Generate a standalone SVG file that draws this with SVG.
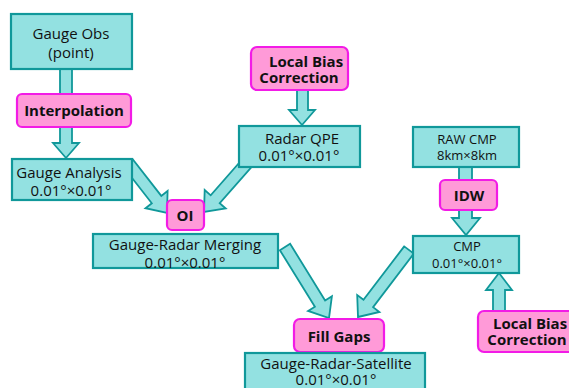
<svg xmlns="http://www.w3.org/2000/svg" width="569" height="388" viewBox="0 0 569 388">
<style>
.box{fill:#93E1E1;stroke:#10989A;stroke-width:2.2}
.op{fill:#FF9AD8;stroke:#F21BE6;stroke-width:2.2}
.arr{fill:#93E1E1;stroke:#10989A;stroke-width:1.8;stroke-linejoin:miter}
.t{font-family:"Open Sans","Noto Sans",sans-serif;font-size:15px;fill:#111;text-anchor:middle;dominant-baseline:central}
.s{font-size:13px}
.b{font-family:"Open Sans","Noto Sans",sans-serif;font-size:15px;font-weight:bold;fill:#111;text-anchor:middle;dominant-baseline:central}
</style>
<rect width="569" height="388" fill="#fff"/>
<g id="connectors">
<polygon class="arr" points="60,69 72,69 72,143 79,143 66,158 53,143 60,143"/>
<polygon class="arr" points="297,90 308,90 308,110 315,110 302,125 289,110 297,110"/>
<polygon class="arr" points="459,167 472,167 472,218 480,218 466,235 452,218 459,218"/>
<polygon class="arr" points="493,311 505,311 505,290 512,290 499,273 486,290 493,290"/>
<polygon class="arr" points="123.3,166.7 151.8,203.3 145.5,208.2 167,213 167.6,191 161.3,195.9 132.7,159.3"/>
<polygon class="arr" points="242.5,159 210.7,195.3 204.7,190 204,212 225.7,208.5 219.7,203.2 251.5,167"/>
<polygon class="arr" points="279.9,250.2 314.9,306.7 308.1,310.9 329,318 331.9,296.2 325.1,300.4 290.1,243.8"/>
<polygon class="arr" points="404.2,246.4 363.5,299.8 357.2,295 358,317 379.4,312 373.1,307.1 413.8,253.6"/>
</g>
<g id="gauge-obs">
<rect class="box" x="11" y="14" width="121" height="55"/>
<text class="t" x="71" y="33">Gauge Obs</text>
<text class="t" x="71" y="52">(point)</text>
</g>
<g id="interpolation">
<rect class="op" x="17" y="94" width="114" height="33" rx="5"/>
<text class="b" x="74" y="110">Interpolation</text>
</g>
<g id="gauge-analysis">
<rect class="box" x="12" y="159" width="120" height="41"/>
<text class="t" x="69" y="172">Gauge Analysis</text>
<text class="t" x="71" y="190">0.01°×0.01°</text>
</g>
<g id="local-bias-top">
<rect class="op" x="251" y="47" width="97" height="43" rx="6"/>
<text class="b" x="306" y="61">Local Bias</text>
<text class="b" x="299" y="77">Correction</text>
</g>
<g id="radar-qpe">
<rect class="box" x="239" y="126" width="121" height="41"/>
<text class="t" x="302" y="138">Radar QPE</text>
<text class="t" x="299" y="155">0.01°×0.01°</text>
</g>
<g id="oi">
<rect class="op" x="167" y="200" width="37" height="30" rx="5"/>
<text class="b" x="185" y="215">OI</text>
</g>
<g id="gauge-radar-merging">
<rect class="box" x="93" y="234" width="185" height="34"/>
<text class="t" x="185" y="244">Gauge-Radar Merging</text>
<text class="t" x="185" y="262">0.01°×0.01°</text>
</g>
<g id="raw-cmp">
<rect class="box" x="413" y="127" width="106" height="40"/>
<text class="t s" x="467" y="139">RAW CMP</text>
<text class="t s" x="467" y="155">8km×8km</text>
</g>
<g id="idw">
<rect class="op" x="440" y="180" width="57" height="30" rx="5"/>
<text class="b" x="469" y="195">IDW</text>
</g>
<g id="cmp">
<rect class="box" x="413" y="236" width="106" height="37"/>
<text class="t s" x="467" y="246">CMP</text>
<text class="t s" x="467" y="263">0.01°×0.01°</text>
</g>
<g id="local-bias-bottom">
<rect class="op" x="478" y="311" width="100" height="41" rx="6"/>
<text class="b" x="530" y="323">Local Bias</text>
<text class="b" x="527" y="339">Correction</text>
</g>
<g id="fill-gaps">
<rect class="op" x="294" y="319" width="90" height="33" rx="6"/>
<text class="b" x="339" y="336">Fill Gaps</text>
</g>
<g id="gauge-radar-satellite">
<rect class="box" x="245" y="353" width="180" height="40"/>
<text class="t" x="336" y="363">Gauge-Radar-Satellite</text>
<text class="t" x="336" y="379">0.01°×0.01°</text>
</g>
</svg>
